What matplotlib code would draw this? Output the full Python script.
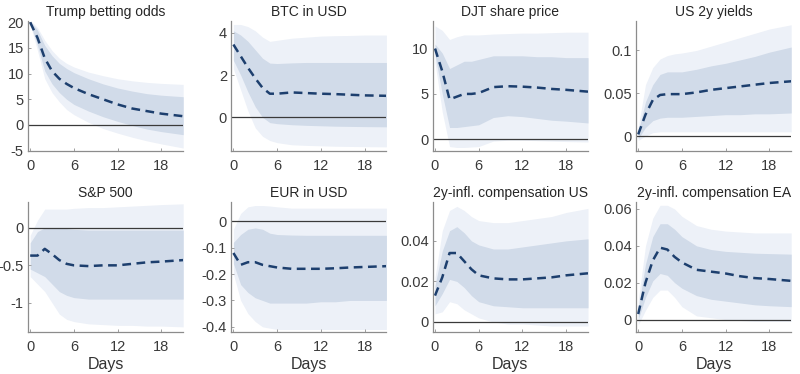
import matplotlib.pyplot as plt
import matplotlib.ticker as mticker

plt.rcParams['font.family'] = ['Liberation Sans', 'DejaVu Sans']
plt.rcParams['axes.unicode_minus'] = False

days = [0, 1, 2, 3, 4, 5, 6, 8, 10, 12, 14, 16, 18, 21]

titles = ['Trump betting odds', 'BTC in USD', 'DJT share price', 'US 2y yields',
          'S&P 500', 'EUR in USD', '2y-infl. compensation US', '2y-infl. compensation EA']

# median, 68% band, 90% band for each panel
trump_med = [20, 17, 13, 10.5, 9, 8, 7.2, 6, 5, 4, 3.2, 2.7, 2.2, 1.7]
trump_hi68 = [20.2, 18.5, 15.5, 13.5, 12, 11, 10.2, 9, 8, 7.2, 6.6, 6.1, 5.8, 5.5]
trump_lo68 = [19.8, 15.5, 10.5, 8, 6.3, 5, 4, 2.7, 1.6, 0.7, -0.1, -0.8, -1.3, -1.9]
trump_hi90 = [20.4, 19, 16.5, 14.5, 13, 12, 11.3, 10.3, 9.6, 9, 8.6, 8.3, 8.1, 7.9]
trump_lo90 = [19.6, 14.5, 9, 6.3, 4.5, 3, 2, 0.5, -0.7, -1.6, -2.4, -3.1, -3.7, -4.5]

btc_med = [3.45, 2.9, 2.35, 1.85, 1.4, 1.12, 1.12, 1.18, 1.15, 1.12, 1.1, 1.07, 1.04, 1.02]
btc_hi68 = [4.1, 3.9, 3.6, 3.2, 2.8, 2.57, 2.55, 2.58, 2.6, 2.6, 2.6, 2.6, 2.6, 2.6]
btc_lo68 = [2.7, 2.0, 1.2, 0.5, 0.0, -0.25, -0.3, -0.35, -0.38, -0.4, -0.42, -0.43, -0.44, -0.45]
btc_hi90 = [4.4, 4.4, 4.3, 4.1, 3.8, 3.6, 3.65, 3.75, 3.8, 3.85, 3.87, 3.88, 3.9, 3.9]
btc_lo90 = [2.3, 1.3, 0.3, -0.5, -0.9, -1.1, -1.2, -1.3, -1.33, -1.35, -1.37, -1.38, -1.39, -1.4]

djt_med = [10, 7.5, 4.4, 4.7, 5.0, 5.0, 5.1, 5.75, 5.85, 5.8, 5.7, 5.55, 5.45, 5.25]
djt_hi68 = [10.5, 9.5, 7.8, 8.2, 8.6, 8.6, 8.8, 9.2, 9.2, 9.2, 9.1, 9.1, 9.0, 9.0]
djt_lo68 = [9.3, 5, 1.3, 1.3, 1.4, 1.5, 1.6, 2.4, 2.6, 2.5, 2.3, 2.1, 2.0, 1.8]
djt_hi90 = [12.5, 12, 11, 11.3, 11.5, 11.5, 11.5, 11.6, 11.65, 11.7, 11.7, 11.75, 11.8, 11.8]
djt_lo90 = [8.5, 3, -0.8, -0.9, -0.9, -0.85, -0.8, -0.2, -0.1, -0.1, -0.15, -0.2, -0.25, -0.3]

us2y_med = [0.002, 0.025, 0.042, 0.048, 0.049, 0.049, 0.049, 0.051, 0.054, 0.056, 0.058, 0.06, 0.062, 0.064]
us2y_hi68 = [0.005, 0.04, 0.06, 0.072, 0.075, 0.075, 0.075, 0.078, 0.082, 0.085, 0.089, 0.093, 0.098, 0.104]
us2y_lo68 = [-0.003, 0.01, 0.018, 0.021, 0.022, 0.022, 0.022, 0.023, 0.024, 0.025, 0.025, 0.026, 0.026, 0.027]
us2y_hi90 = [0.01, 0.06, 0.08, 0.09, 0.094, 0.096, 0.097, 0.1, 0.105, 0.11, 0.115, 0.12, 0.125, 0.13]
us2y_lo90 = [-0.005, 0.0, 0.004, 0.005, 0.005, 0.005, 0.005, 0.005, 0.005, 0.005, 0.005, 0.005, 0.005, 0.005]

spx_med = [-0.37, -0.37, -0.28, -0.35, -0.43, -0.48, -0.5, -0.51, -0.5, -0.5, -0.48, -0.46, -0.45, -0.43]
spx_hi68 = [-0.2, -0.05, 0.0, 0.0, 0.0, -0.01, -0.02, -0.03, -0.03, -0.03, -0.03, -0.03, -0.03, -0.03]
spx_lo68 = [-0.55, -0.6, -0.65, -0.75, -0.85, -0.9, -0.93, -0.95, -0.95, -0.95, -0.95, -0.95, -0.95, -0.95]
spx_hi90 = [-0.1, 0.1, 0.25, 0.25, 0.25, 0.25, 0.26, 0.27, 0.27, 0.28, 0.29, 0.3, 0.31, 0.32]
spx_lo90 = [-0.65, -0.75, -0.85, -1.0, -1.15, -1.22, -1.25, -1.28, -1.29, -1.3, -1.3, -1.31, -1.31, -1.32]

eur_med = [-0.12, -0.165, -0.155, -0.155, -0.165, -0.17, -0.175, -0.18, -0.18, -0.18, -0.178, -0.175, -0.173, -0.17]
eur_hi68 = [-0.08, -0.05, -0.03, -0.025, -0.03, -0.045, -0.05, -0.052, -0.053, -0.053, -0.053, -0.053, -0.053, -0.053]
eur_lo68 = [-0.16, -0.24, -0.27, -0.29, -0.3, -0.31, -0.31, -0.31, -0.31, -0.305, -0.305, -0.3, -0.3, -0.3]
eur_hi90 = [-0.03, 0.03, 0.055, 0.06, 0.06, 0.058, 0.055, 0.05, 0.05, 0.05, 0.05, 0.05, 0.05, 0.05]
eur_lo90 = [-0.2, -0.3, -0.35, -0.38, -0.4, -0.405, -0.41, -0.41, -0.41, -0.41, -0.41, -0.41, -0.41, -0.41]

infus_med = [0.013, 0.022, 0.034, 0.034, 0.03, 0.026, 0.023, 0.0215, 0.021, 0.021, 0.0215, 0.022, 0.023, 0.024]
infus_hi68 = [0.018, 0.035, 0.045, 0.047, 0.044, 0.04, 0.038, 0.036, 0.036, 0.037, 0.038, 0.039, 0.040, 0.041]
infus_lo68 = [0.008, 0.014, 0.021, 0.02, 0.017, 0.013, 0.01, 0.008, 0.0075, 0.007, 0.007, 0.007, 0.007, 0.007]
infus_hi90 = [0.022, 0.045, 0.055, 0.057, 0.055, 0.052, 0.05, 0.049, 0.049, 0.05, 0.051, 0.052, 0.054, 0.056]
infus_lo90 = [0.004, 0.005, 0.01, 0.009, 0.006, 0.004, 0.002, 0.0, -0.001, -0.001, -0.0015, -0.002, -0.002, -0.002]

infea_med = [0.003, 0.02, 0.032, 0.039, 0.038, 0.034, 0.031, 0.027, 0.026, 0.025, 0.0235, 0.0225, 0.022, 0.021]
infea_hi68 = [0.006, 0.03, 0.045, 0.052, 0.052, 0.049, 0.045, 0.04, 0.038, 0.037, 0.0365, 0.036, 0.0358, 0.0355]
infea_lo68 = [0.0, 0.012, 0.021, 0.025, 0.024, 0.02, 0.017, 0.013, 0.011, 0.01, 0.009, 0.008, 0.0075, 0.007]
infea_hi90 = [0.01, 0.04, 0.055, 0.062, 0.062, 0.06, 0.056, 0.051, 0.049, 0.048, 0.0475, 0.047, 0.047, 0.047]
infea_lo90 = [-0.003, 0.005, 0.012, 0.016, 0.016, 0.012, 0.007, 0.002, 0.001, 0.0, -0.0005, -0.001, -0.001, -0.001]

panels = [
    (trump_med, trump_lo68, trump_hi68, trump_lo90, trump_hi90),
    (btc_med, btc_lo68, btc_hi68, btc_lo90, btc_hi90),
    (djt_med, djt_lo68, djt_hi68, djt_lo90, djt_hi90),
    (us2y_med, us2y_lo68, us2y_hi68, us2y_lo90, us2y_hi90),
    (spx_med, spx_lo68, spx_hi68, spx_lo90, spx_hi90),
    (eur_med, eur_lo68, eur_hi68, eur_lo90, eur_hi90),
    (infus_med, infus_lo68, infus_hi68, infus_lo90, infus_hi90),
    (infea_med, infea_lo68, infea_hi68, infea_lo90, infea_hi90),
]

ylims = [(-5.1, 20.2), (-1.6, 4.55), (-1.3, 13.0), (-0.0175, 0.134),
         (-1.39, 0.34), (-0.42, 0.072), (-0.005, 0.059), (-0.0068, 0.0636)]
yticks = [[-5, 0, 5, 10, 15, 20], [0, 2, 4], [0, 5, 10], [0, 0.05, 0.1],
          [-1, -0.5, 0], [-0.4, -0.3, -0.2, -0.1, 0], [0, 0.02, 0.04], [0, 0.02, 0.04, 0.06]]

fig = plt.figure(figsize=(8, 3.74), dpi=100)
lefts = [0.035, 0.289, 0.541, 0.795]
bottoms = [0.596, 0.112]

for i, (med, lo68, hi68, lo90, hi90) in enumerate(panels):
    ax = fig.add_axes([lefts[i % 4], bottoms[i // 4], 0.194, 0.347])
    ax.fill_between(days, lo90, hi90, color='#edf1f8', lw=0)
    ax.fill_between(days, lo68, hi68, color='#d1dbe9', lw=0)
    ax.axhline(0, color='#3a3a3a', lw=0.9)
    ax.plot(days, med, color='#1d3f6e', lw=1.8, ls=(0, (3.5, 2.2)))
    ax.set_xlim(-0.3, 21)
    ax.set_ylim(*ylims[i])
    ax.set_xticks([0, 6, 12, 18])
    ax.set_yticks(yticks[i])
    ax.yaxis.set_major_formatter(mticker.FormatStrFormatter('%g'))
    ax.set_title(titles[i], fontsize=10, color='#262626', pad=4)
    for s in ['top', 'right']:
        ax.spines[s].set_visible(False)
    for s in ['left', 'bottom']:
        ax.spines[s].set_color('#8c8c8c')
        ax.spines[s].set_linewidth(0.9)
    ax.tick_params(direction='in', length=2, width=0.7, color='#a0a0a0',
                   labelsize=10.5, labelcolor='#3a3a3a')
    ax.tick_params(axis='x', pad=6)
    ax.tick_params(axis='y', pad=3)
    if i >= 4:
        ax.set_xlabel('Days', fontsize=11.5, color='#333333', labelpad=2)

plt.savefig('out.png', dpi=100)
